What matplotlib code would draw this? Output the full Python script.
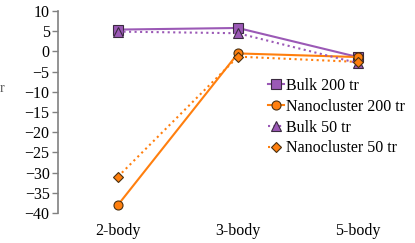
import matplotlib
matplotlib.use("Agg")
import matplotlib.pyplot as plt

categories = ["2-body", "3-body", "5-body"]
bulk_200 = [5.4, 5.8, -1.4]
nano_200 = [-38.0, -0.5, -1.4]
bulk_50 = [4.9, 4.5, -2.9]
nano_50 = [-31.0, -1.3, -2.6]
yticks = list(range(-40, 11, 5))

plt.rcParams['font.family'] = ['Liberation Serif', 'DejaVu Serif']

purple = "#9B59B6"
orange = "#FF7F0E"

fig = plt.figure(figsize=(4.15, 2.43), dpi=100)
ax = fig.add_axes([0.1398, 0.1235, 0.867, 0.8312])
x = list(range(len(categories)))

ax.plot(x, bulk_200, color=purple, lw=1.5, ls='-', marker='s', ms=6.5,
        mfc=purple, mec='#3a2a40', mew=0.8, label="Bulk 200 tr", zorder=3)
ax.plot(x, nano_200, color=orange, lw=1.5, ls='-', marker='o', ms=6.5,
        mfc=orange, mec='#4a3010', mew=0.8, label="Nanocluster 200 tr", zorder=3)
ax.plot(x, bulk_50, color=purple, lw=1.5, ls=':', marker='^', ms=6.5,
        mfc=purple, mec='#3a2a40', mew=0.8, label="Bulk 50 tr", zorder=3)
ax.plot(x, nano_50, color=orange, lw=1.5, ls=':', marker='D', ms=5.5,
        mfc=orange, mec='#4a3010', mew=0.8, label="Nanocluster 50 tr", zorder=3)

ax.set_xlim(-0.5, 2.5)
ax.set_ylim(-40, 10)
ax.set_yticks(yticks)
ax.set_xticks(x)
ax.set_xticklabels(categories)
ax.tick_params(axis='x', length=0, labelsize=11.5, pad=7)
ax.tick_params(axis='y', length=4, width=1, color='#808080', labelsize=11.5, direction='out', pad=2)
for s in ['top', 'right', 'bottom']:
    ax.spines[s].set_visible(False)
ax.spines['left'].set_color('#808080')
ax.spines['left'].set_linewidth(1.2)

leg = fig.legend(*ax.get_legend_handles_labels(), loc='upper left',
                 bbox_to_anchor=(268 / 415, 1 - 78 / 243), frameon=False,
                 fontsize=11.5, handlelength=1.0, handletextpad=0.15,
                 labelspacing=0.3, borderaxespad=0, borderpad=0)

fig.text(0.0, 0.635, "r", fontsize=10, color='#555555', ha='left', va='center')

fig.savefig("out.png", dpi=100)
